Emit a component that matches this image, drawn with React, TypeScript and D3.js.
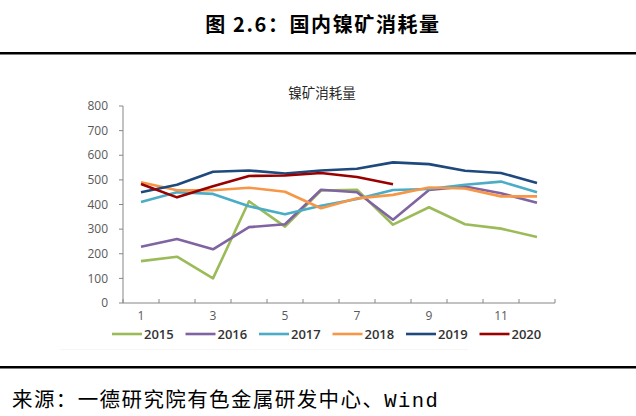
import * as d3 from "d3";

const months = ["1", "2", "3", "4", "5", "6", "7", "8", "9", "10", "11", "12"];
const yTicks = [0, 100, 200, 300, 400, 500, 600, 700, 800];

const s2015 = [170, 188, 100, 413, 310, 457, 460, 318, 389, 320, 302, 268];
const s2016 = [228, 260, 218, 308, 320, 460, 450, 338, 459, 473, 446, 407];
const s2017 = [410, 450, 443, 393, 360, 395, 422, 459, 463, 480, 493, 450];
const s2018 = [490, 458, 458, 468, 452, 385, 425, 439, 469, 465, 433, 433];
const s2019 = [450, 480, 533, 538, 526, 538, 545, 571, 564, 537, 528, 487];
const s2020 = [483, 429, 474, 516, 518, 528, 512, 482];

const series = [
  { name: "2015", color: "#9bbb59", values: s2015 },
  { name: "2016", color: "#8064a2", values: s2016 },
  { name: "2017", color: "#4bacc6", values: s2017 },
  { name: "2018", color: "#f79646", values: s2018 },
  { name: "2019", color: "#1f497d", values: s2019 },
  { name: "2020", color: "#990000", values: s2020 },
];

const W = 636;
const H = 416;
const margin = { left: 123, right: 81, top: 106, bottom: 113 };
const axisColor = "#868686";
const labelColor = "#595959";

export default function App() {
  const x = d3
    .scaleBand<string>()
    .domain(months)
    .range([margin.left, W - margin.right]);
  const y = d3
    .scaleLinear()
    .domain([0, 800])
    .range([H - margin.bottom, margin.top]);

  const line = d3
    .line<number>()
    .x((_, i) => (x(months[i]) ?? 0) + x.bandwidth() / 2)
    .y((d) => y(d));

  const y0 = y(0);
  const bandTicks = d3.range(months.length + 1).map((i) => margin.left + i * x.bandwidth());

  return (
    <div style={{ position: "absolute", left: 0, top: 0 }}>
      <svg width={W} height={H} style={{ display: "block", background: "#fff" }}>
        {/* header */}
        <text
          x={323}
          y={32}
          textAnchor="middle"
          fontFamily="'Noto Sans CJK SC', sans-serif"
          fontWeight="bold"
          fontSize={20}
          letterSpacing={1.6}
          fill="#000"
        >
          图 2.6：国内镍矿消耗量
        </text>
        <rect x={0} y={52} width={W} height={2.5} fill="#000" />

        {/* chart title */}
        <text
          x={322}
          y={98}
          textAnchor="middle"
          fontFamily="'Noto Sans CJK SC', sans-serif"
          fontSize={13.5}
          fill="#262626"
        >
          镍矿消耗量
        </text>

        {/* y axis */}
        <line x1={margin.left} x2={margin.left} y1={y(800)} y2={y0} stroke={axisColor} />
        {yTicks.map((t) => (
          <g key={t}>
            <line x1={margin.left - 4} x2={margin.left} y1={y(t)} y2={y(t)} stroke={axisColor} />
            <text
              x={margin.left - 15}
              y={y(t)}
              dy="0.35em"
              textAnchor="end"
              fontFamily="'Open Sans', sans-serif"
              fontSize={12}
              fill={labelColor}
            >
              {t}
            </text>
          </g>
        ))}

        {/* x axis */}
        <line x1={margin.left} x2={W - margin.right} y1={y0} y2={y0} stroke={axisColor} />
        {bandTicks.map((tx, i) => (
          <line key={i} x1={tx} x2={tx} y1={y0} y2={y0 - 4} stroke={axisColor} />
        ))}
        {months.map((m, i) =>
          i % 2 === 0 ? (
            <text
              key={m}
              x={(x(m) ?? 0) + x.bandwidth() / 2}
              y={y0 + 17}
              textAnchor="middle"
              fontFamily="'Open Sans', sans-serif"
              fontSize={12}
              fill={labelColor}
            >
              {m}
            </text>
          ) : null
        )}

        {/* lines */}
        {series.map((s) => (
          <path
            key={s.name}
            d={line(s.values) ?? ""}
            fill="none"
            stroke={s.color}
            strokeWidth={2.6}
            strokeLinejoin="round"
          />
        ))}

        {/* legend */}
        {series.map((s, i) => {
          const lx = 112 + i * 73.5;
          return (
            <g key={s.name}>
              <line x1={lx} x2={lx + 30} y1={334} y2={334} stroke={s.color} strokeWidth={2.6} />
              <text
                x={lx + 32}
                y={334}
                dy="0.35em"
                fontFamily="'Open Sans', sans-serif"
                fontSize={13}
                fontWeight={600}
                fill="#333"
              >
                {s.name}
              </text>
            </g>
          );
        })}
        <line x1={60} x2={468} y1={349.5} y2={349.5} stroke="#f6f6f6" />

        <rect x={0} y={366} width={W} height={2.5} fill="#000" />

        {/* source */}
        <text
          x={12}
          y={407}
          fontFamily="'Noto Sans CJK SC', 'DejaVu Sans Mono', monospace"
          fontSize={20.5}
          letterSpacing={1.4}
          fill="#000"
        >
          来源：一德研究院有色金属研发中心、<tspan fontFamily="'Liberation Mono', 'DejaVu Sans Mono', monospace">Wind</tspan>
        </text>
      </svg>
    </div>
  );
}
